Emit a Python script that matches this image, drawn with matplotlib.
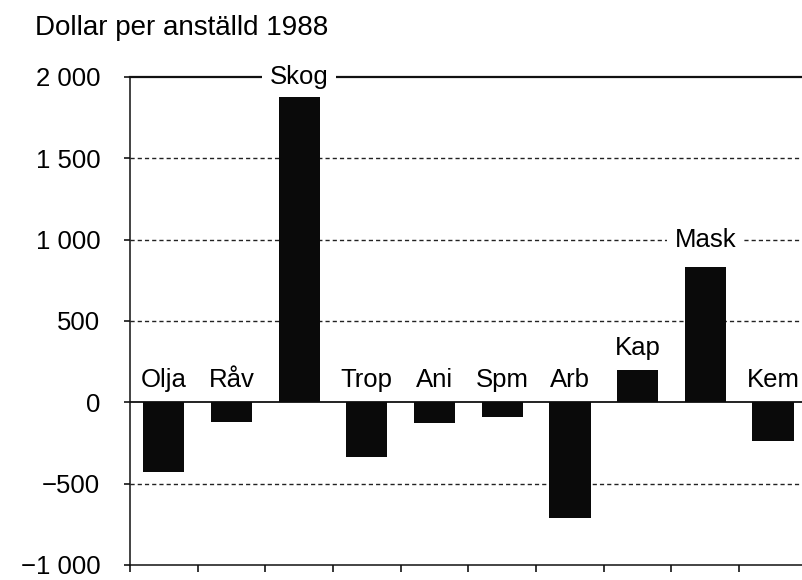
import numpy as np
import matplotlib
matplotlib.use("Agg")
import matplotlib.pyplot as plt

plt.rcParams['font.family'] = ['Liberation Sans', 'DejaVu Sans']

# ============================
# Data
# ============================
kategorier = ["Olja", "Råv", "Skog", "Trop", "Ani", "Spm", "Arb", "Kap", "Mask", "Kem"]
dollar_per_anstalld = [-430, -120, 1880, -335, -125, -90, -710, 200, 835, -235]

y_ticks = [-1000, -500, 0, 500, 1000, 1500, 2000]
y_ticklabels = ["\u22121 000", "\u2212500", "0", "500", "1 000", "1 500", "2 000"]
titel = "Dollar per anställd 1988"

# labels placed on a reference line instead of above the bar
etikett_pa_linje = {"Skog": 2000, "Mask": 1000}

# ============================
# Figure
# ============================
fig = plt.figure(figsize=(8.02, 5.8), dpi=100)
ax = fig.add_axes([130 / 802, 1 - 565 / 580, 1 - 130 / 802, (565 - 77) / 580])

x = np.arange(len(kategorier))
ax.bar(x, dollar_per_anstalld, width=0.61, color="#0a0a0a", zorder=3)

ax.set_xlim(-0.5, 9.43)
ax.set_ylim(-1000, 2000)

# reference lines
for y in [-500, 500, 1000, 1500]:
    ax.axhline(y, color="#222222", lw=1.0, ls=(0, (3, 2.2)), zorder=1)
ax.axhline(0, color="#111111", lw=1.3, zorder=2)

# spines
ax.spines["right"].set_visible(False)
ax.spines["top"].set_linewidth(1.6)
for s in ["left", "bottom", "top"]:
    ax.spines[s].set_color("#111111")
ax.spines["left"].set_linewidth(1.1)
ax.spines["bottom"].set_linewidth(1.1)

ax.set_yticks(y_ticks)
ax.set_yticklabels(y_ticklabels, fontsize=18.5)
ax.set_xticks(np.arange(-0.5, 9.5, 1.0))
ax.set_xticklabels([])
ax.tick_params(axis="y", length=4.5, width=1.1, pad=17)
ax.tick_params(axis="x", length=5, width=1.1)

# labels
for xi, namn, v in zip(x, kategorier, dollar_per_anstalld):
    if namn in etikett_pa_linje:
        ax.text(xi, etikett_pa_linje[namn], namn, ha="center", va="center", fontsize=18.5,
                bbox=dict(boxstyle="square,pad=0.3", fc="white", ec="none"), zorder=4)
    else:
        ax.text(xi, max(v, 0) + 135, namn, ha="center", va="center", fontsize=18.5, zorder=4)

fig.text(35 / 802, 1 - 28 / 580, titel, ha="left", va="center", fontsize=20)

fig.savefig("out.png", dpi=100)
